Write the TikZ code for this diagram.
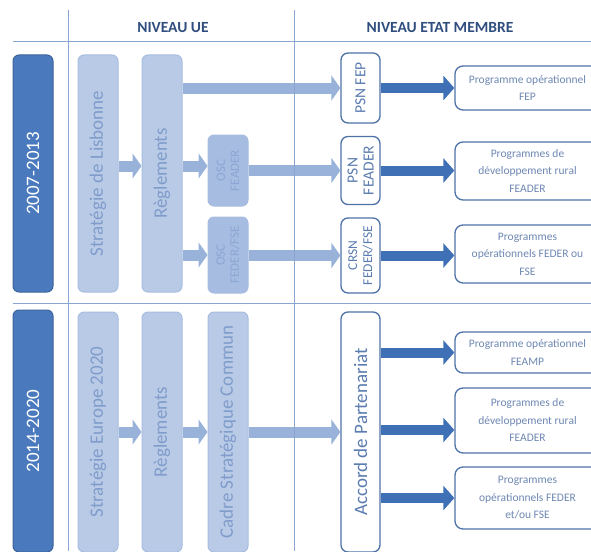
\documentclass[tikz,border=0pt]{standalone}
\usepackage{fontspec}
\setmainfont{Carlito}
\usetikzlibrary{arrows.meta}
\definecolor{gridc}{HTML}{8AA5D0}
\definecolor{yearc}{HTML}{4A7ABD}
\definecolor{yearb}{HTML}{3C6399}
\definecolor{lightf}{HTML}{B9CAE6}
\definecolor{lightb}{HTML}{A7BDE0}
\definecolor{oscf}{HTML}{A6BCE0}
\definecolor{lighttxt}{HTML}{7F9CCB}
\definecolor{osctxt}{HTML}{8CA7D3}
\definecolor{lightarr}{HTML}{98B2DA}
\definecolor{darkarr}{HTML}{3F70B6}
\definecolor{whiteb}{HTML}{4E72A8}
\definecolor{progtxt}{HTML}{6E88B3}
\definecolor{psntxt}{HTML}{5A7CB0}
\definecolor{headc}{HTML}{2F4E7E}
\tikzset{
  gridl/.style={draw=gridc, line width=0.9pt},
  head/.style={text=headc, font=\bfseries\fontsize{15.5}{17}\selectfont, inner sep=0},
  yearbox/.style={draw=yearb, fill=yearc, rounded corners=6pt, line width=1pt, minimum width=40pt, inner sep=0},
  lightbox/.style={draw=lightb, fill=lightf, rounded corners=6pt, line width=1pt, minimum width=40pt, inner sep=0},
  oscbox/.style={lightbox, fill=oscf},
  whitebox/.style={draw=whiteb, fill=white, rounded corners=7pt, line width=1.3pt, minimum width=39pt, inner sep=0},
  progbox/.style={draw=whiteb, fill=white, rounded corners=8pt, line width=1.3pt, minimum width=145pt, inner sep=0, align=center, text=progtxt, font=\fontsize{11.5}{17.5}\selectfont},
  vtext/.style={rotate=90, align=center, inner sep=0},
  bigtxt/.style={vtext, text=lighttxt, font=\fontsize{19}{20}\selectfont},
  osct/.style={vtext, text=osctxt, font=\fontsize{13}{14}\selectfont},
  psnt/.style={vtext, text=psntxt, font=\fontsize{15.5}{16}\selectfont},
  yeart/.style={vtext, text=white, font=\fontsize{19}{20}\selectfont},
  lar/.style={draw=lightarr, line width=11pt, -{Triangle[length=9pt,width=25pt]}},
  dar/.style={draw=darkarr, line width=10pt, -{Triangle[length=11pt,width=24pt]}}
}
\begin{document}
\begin{tikzpicture}[x=1pt,y=-1pt]
\useasboundingbox (0,0) rectangle (591,551);
\clip (0,0) rectangle (591,551);
% headers
\node[head] (hue) at (173,28) {NIVEAU UE};
\node[head] (hem) at (440,28) {NIVEAU ETAT MEMBRE};
% ---------- 2007-2013
\node[yearbox, minimum height=237pt] (y1) at (33,173.5) {};
\node[yeart] (y1t) at (y1) {2007-2013};
\node[lightbox, minimum height=237pt] (strat1) at (98,173.5) {};
\node[bigtxt] (strat1t) at (strat1) {Stratégie de Lisbonne};
\node[lightbox, minimum height=237pt] (regl1) at (162,173.5) {};
\node[bigtxt] (regl1t) at (regl1) {Règlements};
\node[oscbox, minimum height=71pt] (osc1) at (228,170.5) {};
\node[osct] (osc1t) at (osc1) {OSC\\FEADER};
\node[oscbox, minimum height=76pt] (osc2) at (228,255) {};
\node[osct] (osc2t) at (osc2) {OSC\\FEDER/FSE};
\node[whitebox, minimum height=70pt] (psn1) at (360.5,88) {};
\node[psnt] (psn1t) at (psn1) {PSN FEP};
\node[whitebox, minimum height=68pt] (psn2) at (360.5,170.5) {};
\node[psnt] (psn2t) at (psn2) {PSN\\FEADER};
\node[whitebox, minimum height=75pt] (crsn) at (360.5,255.5) {};
\node[psnt, font=\fontsize{13.5}{15}\selectfont] (crsnt) at (crsn) {CRSN\\FEDER/FSE};
\node[progbox, minimum height=44pt] (prog1) at (527.5,88) {Programme opérationnel\\FEP};
\node[progbox, minimum height=58pt] (prog2) at (527.5,171) {Programmes de\\développement rural\\FEADER};
\node[progbox, minimum height=58pt] (prog3) at (527.5,254) {Programmes\\opérationnels FEDER ou\\FSE};
% arrows 2007-2013
\draw[lar] (regl1.east |- psn1) -- (psn1.west);
\draw[lar] (strat1.east |- 0,166) -- (regl1.west |- 0,166);
\draw[lar] (regl1.east |- 0,166) -- (osc1.west |- 0,166);
\draw[lar] (osc1.east |- psn2) -- (psn2.west);
\draw[lar] (regl1.east |- osc2) -- (osc2.west);
\draw[lar] (osc2.east |- crsn) -- (crsn.west);
\draw[dar] (psn1.east) -- (prog1.west |- psn1);
\draw[dar] (psn2.east) -- (prog2.west |- psn2);
\draw[dar] (crsn.east) -- (prog3.west |- crsn);
% ---------- 2014-2020
\node[yearbox, minimum height=242pt] (y2) at (33,431) {};
\node[yeart] (y2t) at (y2) {2014-2020};
\node[lightbox, minimum height=240pt] (strat2) at (98,432) {};
\node[bigtxt] (strat2t) at (strat2) {Stratégie Europe 2020};
\node[lightbox, minimum height=240pt] (regl2) at (162,432) {};
\node[bigtxt] (regl2t) at (regl2) {Règlements};
\node[lightbox, minimum height=240pt] (cadre) at (228,432) {};
\node[bigtxt] (cadret) at (cadre) {Cadre Stratégique Commun};
\node[whitebox, minimum height=240pt] (accord) at (360.5,432) {};
\node[bigtxt, text=psntxt] (accordt) at (accord) {Accord de Partenariat};
\node[progbox, minimum height=41pt] (prog4) at (527.5,352.5) {Programme opérationnel\\FEAMP};
\node[progbox, minimum height=65pt] (prog5) at (527.5,420.5) {Programmes de\\développement rural\\FEADER};
\node[progbox, minimum height=62pt] (prog6) at (527.5,498) {Programmes\\opérationnels FEDER\\et/ou FSE};
\draw[lar] (strat2.east |- 0,432) -- (regl2.west |- 0,432);
\draw[lar] (regl2.east |- 0,432) -- (cadre.west |- 0,432);
\draw[lar] (cadre.east |- 0,432) -- (accord.west |- 0,432);
\draw[dar] (accord.east |- prog4) -- (prog4.west);
\draw[dar] (accord.east |- 0,430) -- (prog5.west |- 0,430);
\draw[dar] (accord.east |- prog6) -- (prog6.west);
% grid lines
\draw[gridl] (68,10) -- (68,551);
\draw[gridl] (294,10) -- (294,551);
\draw[gridl] (13,41) -- (591,41);
\draw[gridl] (13,303) -- (591,303);
\end{tikzpicture}
\end{document}
